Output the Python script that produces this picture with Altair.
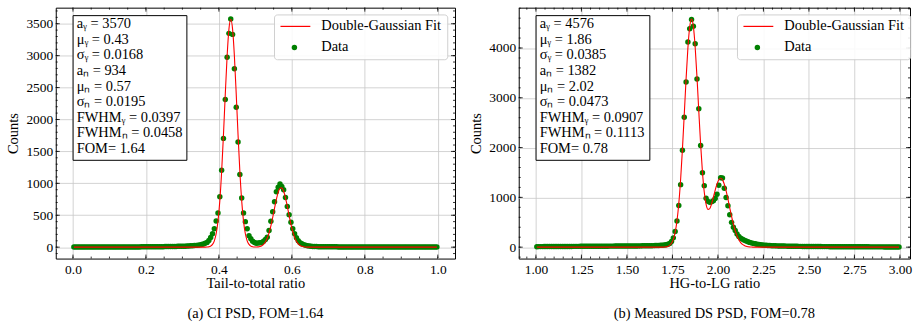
import altair as alt
import numpy as np
import pandas as pd

FONT = "Liberation Serif"

# ---------------- Panel (a): CI PSD ----------------
a_counts = [
    2, 2, 2, 2, 2, 2, 2, 2, 2, 2, 2, 2, 2, 2, 2, 3, 3, 3, 3,
    3, 3, 3, 3, 3, 3, 3, 3, 3, 3, 4, 4, 4, 4, 4, 4, 4, 4, 5, 5,
    5, 5, 5, 6, 6, 6, 7, 7, 7, 8, 8, 9, 9, 10, 10, 11, 11, 12, 13, 13,
    14, 15, 16, 17, 19, 21, 23, 25, 28, 32, 36, 42, 50, 60, 75, 105, 150, 210, 290, 411,
    536, 790, 1206, 1704, 2312, 2975, 3349, 3573, 3333, 2794, 2192, 1646, 1137, 769, 536, 400, 287, 180, 131, 93,
    73, 62, 65, 68, 73, 93, 120, 156, 260, 405, 556, 712, 868, 940, 988, 950, 899, 779, 639, 509,
    389, 287, 209, 146, 100, 70, 53, 40, 30, 22, 17, 14, 12, 10, 9, 8, 7, 7, 6, 6,
    6, 5, 5, 5, 5, 5, 4, 4, 4, 4, 4, 4, 4, 3, 3, 3, 3, 3, 3, 3,
    3, 3, 3, 3, 3, 3, 3, 2, 2, 2, 2, 2, 2, 2, 2, 2, 2, 2, 2, 2,
    2, 2, 2, 2, 2, 2, 2, 2, 2, 2, 2, 2, 2, 2, 2, 2, 2, 2, 2, 2, 2,
]
a_fit_peak = [
    2, 6, 17, 43, 99, 210, 408, 725, 1180, 1758,
    2397, 2991, 3415, 3570, 3415, 2991, 2397, 1758, 1180, 725,
    408, 210, 99, 43, 17, 6, 3, 3, 5, 11,
    23, 45, 82, 140, 223, 333, 466, 610, 748, 859,
    923, 929, 876, 773, 639, 494, 358, 243, 154, 92,
    51, 27, 13, 6, 3, 1,
]
a_fit = [0] * 73 + a_fit_peak + [0] * 71
a_x = np.round(0.0025 + 0.005 * np.arange(len(a_counts)), 4)
a_xticks = [0.0, 0.2, 0.4, 0.6, 0.8, 1.0]
a_yticks = [0, 500, 1000, 1500, 2000, 2500, 3000, 3500]
a_box = ["aᵧ = 3570", "μᵧ = 0.43", "σᵧ = 0.0168", "aₙ = 934", "μₙ = 0.57",
         "σₙ = 0.0195", "FWHMᵧ = 0.0397", "FWHMₙ = 0.0458", "FOM= 1.64"]

# ---------------- Panel (b): Measured DS PSD ----------------
b_counts = [
    10, 11, 11, 11, 12, 12, 12, 12, 13,
    13, 13, 13, 14, 14, 14, 14, 15, 15, 15,
    15, 16, 16, 16, 16, 17, 17, 17, 17, 18,
    18, 18, 18, 19, 19, 19, 19, 20, 20, 20,
    20, 21, 21, 21, 22, 22, 22, 22, 23, 23,
    23, 24, 24, 24, 25, 25, 25, 26, 26, 27,
    27, 28, 28, 29, 30, 31, 32, 33, 35, 37,
    40, 44, 50, 58, 75, 114, 187, 313, 526, 837,
    1256, 1947, 2611, 3317, 4120, 4385, 4572, 4439, 4086, 3376,
    2778, 2041, 1495, 1236, 985, 920, 900, 910, 931, 977,
    1064, 1244, 1395, 1390, 1184, 997, 831, 652, 498, 400,
    333, 265, 213, 180, 160, 140, 122, 108, 96, 86,
    76, 68, 60, 54, 48, 44, 40, 37, 34, 32,
    30, 28, 27, 26, 25, 24, 23, 22, 21, 20,
    19, 18, 18, 17, 17, 16, 16, 15, 15, 14,
    14, 14, 13, 13, 13, 12, 12, 12, 11, 11,
    11, 11, 10, 10, 10, 10, 9, 9, 9, 9,
    9, 8, 8, 8, 8, 8, 8, 7, 7, 7,
    7, 7, 7, 7, 6, 6, 6, 6, 6, 6,
    6, 6, 5, 5, 5, 5, 5, 5, 5, 5, 5,
]
b_fit_peak = [
    1, 2, 6, 15, 36, 77, 157, 298, 528, 876,
    1359, 1969, 2667, 3378, 4000, 4426, 4581, 4433, 4016, 3410,
    2722, 2061, 1507, 1102, 859, 760, 775, 867, 1003, 1145,
    1270, 1353, 1383, 1351, 1264, 1130, 967, 790, 618, 462,
    331, 226, 148, 92, 55, 32, 17, 9, 5, 2, 1,
]
b_fit = [0] * 69 + b_fit_peak + [0] * 80
b_x = np.round(1.005 + 0.01 * np.arange(len(b_counts)), 4)
b_xticks = [1.0, 1.25, 1.5, 1.75, 2.0, 2.25, 2.5, 2.75, 3.0]
b_yticks = [0, 1000, 2000, 3000, 4000]
b_box = ["aᵧ = 4576", "μᵧ = 1.86", "σᵧ = 0.0385", "aₙ = 1382", "μₙ = 2.02",
         "σₙ = 0.0473", "FWHMᵧ = 0.0907", "FWHMₙ = 0.1113", "FOM= 0.78"]

legend_labels = ["Double-Gaussian Fit", "Data"]

H = 252
DOT = 30


def minor(lo, hi, step):
    v = np.arange(np.ceil(lo / step) * step, hi, step)
    return [round(float(t), 4) for t in v if lo < t < hi]


def panel(x, counts, fit, xdom, ydom, width, xticks, xfmt, yticks,
          xminor_step, yminor_step, xtitle, caption, box_lines):
    W = width
    x_enc = alt.X("x:Q", scale=alt.Scale(domain=xdom, nice=False, zero=False),
                  axis=alt.Axis(values=xticks, format=xfmt, title=xtitle,
                                labelPadding=4, titlePadding=1))
    y_enc = alt.Y("y:Q", scale=alt.Scale(domain=ydom, nice=False, zero=False),
                  axis=alt.Axis(values=yticks, format="d", title="Counts",
                                labelPadding=3, titlePadding=5))
    df = pd.DataFrame({"x": x, "y": counts})
    dfit = pd.DataFrame({"x": x, "y": fit})
    one = pd.DataFrame({"k": [0]})

    pts = alt.Chart(df).mark_circle(size=DOT, color="#008000", opacity=1).encode(x=x_enc, y=y_enc)
    line = alt.Chart(dfit).mark_line(color="#ff0000", strokeWidth=1.1,
                                     interpolate="monotone").encode(x=x_enc, y=y_enc)

    xmaj = pd.DataFrame({"x": [v for v in xticks if xdom[0] < v < xdom[1]]})
    xmin = pd.DataFrame({"x": minor(xdom[0], xdom[1], xminor_step)})
    ymaj = pd.DataFrame({"y": yticks})
    ymin = pd.DataFrame({"y": minor(ydom[0], ydom[1], yminor_step)})
    tk = dict(color="black", strokeWidth=0.8)
    ticks = [
        alt.Chart(xmaj).mark_rule(**tk).encode(x=x_enc, y=alt.value(H), y2=alt.value(H - 4)),
        alt.Chart(xmaj).mark_rule(**tk).encode(x=x_enc, y=alt.value(0), y2=alt.value(4)),
        alt.Chart(xmin).mark_rule(**tk).encode(x=x_enc, y=alt.value(H), y2=alt.value(H - 2)),
        alt.Chart(xmin).mark_rule(**tk).encode(x=x_enc, y=alt.value(0), y2=alt.value(2)),
        alt.Chart(ymaj).mark_rule(**tk).encode(y=y_enc, x=alt.value(0), x2=alt.value(4)),
        alt.Chart(ymaj).mark_rule(**tk).encode(y=y_enc, x=alt.value(W), x2=alt.value(W - 4)),
        alt.Chart(ymin).mark_rule(**tk).encode(y=y_enc, x=alt.value(0), x2=alt.value(2)),
        alt.Chart(ymin).mark_rule(**tk).encode(y=y_enc, x=alt.value(W), x2=alt.value(W - 2)),
    ]

    box = alt.Chart(one).mark_rect(fill="white", stroke="black", strokeWidth=1).encode(
        x=alt.value(17.4), x2=alt.value(131.7), y=alt.value(8), y2=alt.value(153.3))
    box_text = alt.Chart(one).mark_text(
        align="left", baseline="top", font=FONT, fontSize=14.5, lineHeight=15.7, color="black"
    ).encode(x=alt.value(21), y=alt.value(9.5), text=alt.value(box_lines))

    leg_box = alt.Chart(one).mark_rect(fill="white", stroke="#cccccc", strokeWidth=1,
                                       cornerRadius=3, opacity=0.9).encode(
        x=alt.value(219.7), x2=alt.value(393.7), y=alt.value(7.3), y2=alt.value(52.3))
    leg_line = alt.Chart(one).mark_rule(color="#ff0000", strokeWidth=1.2).encode(
        x=alt.value(225.7), x2=alt.value(255.7), y=alt.value(18.8))
    leg_dot = alt.Chart(one).mark_circle(size=DOT, color="#008000", opacity=1).encode(
        x=alt.value(239.7), y=alt.value(40))
    leg_t1 = alt.Chart(one).mark_text(align="left", baseline="middle", font=FONT,
                                      fontSize=14.5, color="black").encode(
        x=alt.value(266.7), y=alt.value(18.8), text=alt.value(legend_labels[0]))
    leg_t2 = alt.Chart(one).mark_text(align="left", baseline="middle", font=FONT,
                                      fontSize=14.5, color="black").encode(
        x=alt.value(266.7), y=alt.value(39.5), text=alt.value(legend_labels[1]))

    return alt.layer(pts, line, *ticks, box, box_text, leg_box, leg_line, leg_dot,
                     leg_t1, leg_t2).properties(
        width=W, height=H,
        title=alt.TitleParams(caption, orient="bottom", font=FONT, fontSize=14.5,
                              fontWeight="normal", color="black", anchor="middle",
                              frame="group", offset=17))


left = panel(a_x, a_counts, a_fit, [-0.0472, 1.0472], [-178.6, 3751.6], 401,
             a_xticks, ".1f", a_yticks, 0.05, 100, "Tail-to-total ratio",
             "(a) CI PSD, FOM=1.64", a_box)
right = panel(b_x, b_counts, b_fit, [0.9055, 3.0554], [-229, 4810], 393,
              b_xticks, ".2f", b_yticks, 0.05, 200, "HG-to-LG ratio",
              "(b) Measured DS PSD, FOM=0.78", b_box)

chart = alt.hconcat(left, right, spacing=12).properties(
    padding={"left": 5, "top": 6, "right": 0, "bottom": 0}
).configure_view(stroke="black", strokeWidth=1).configure_axis(
    grid=True, gridColor="#c8c8c8", gridWidth=0.8, ticks=False, tickSize=0, domain=False,
    labelFont=FONT, labelFontSize=13.5, labelColor="black",
    titleFont=FONT, titleFontSize=14.5, titleFontWeight="normal", titleColor="black"
)

chart.save("out.html", embed_options={"renderer": "svg", "actions": False})
